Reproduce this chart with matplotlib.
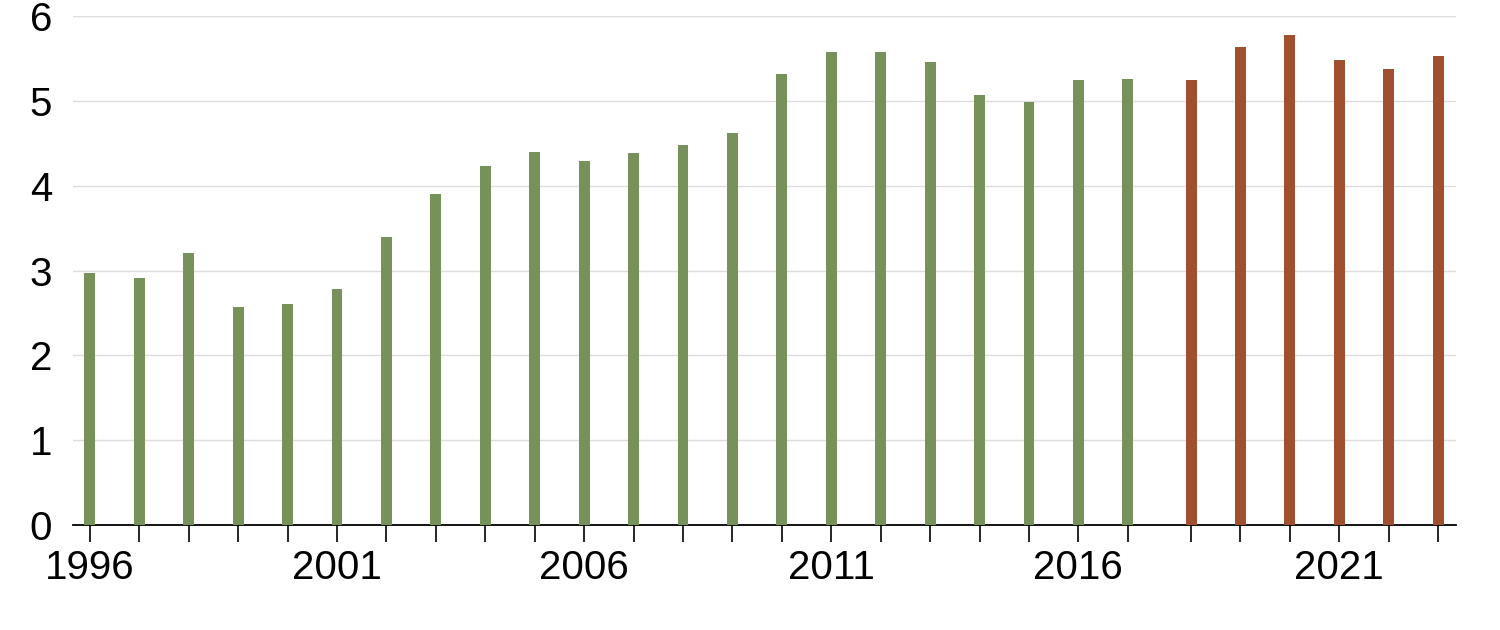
import matplotlib.pyplot as plt
import numpy as np

plt.rcParams['font.family'] = ['Liberation Sans', 'DejaVu Sans']

# values
years_hist = list(range(1996, 2018))
vals_hist = [2.97, 2.91, 3.21, 2.57, 2.61, 2.78, 3.40, 3.90, 4.23, 4.40, 4.29,
             4.38, 4.48, 4.62, 5.32, 5.58, 5.57, 5.46, 5.07, 4.99, 5.24, 5.26]
years_new = list(range(2018, 2024))
vals_new = [5.24, 5.64, 5.78, 5.48, 5.38, 5.53]

green = '#76925a'
rust = '#a0502f'

# second series sits a bit to the right of the regular yearly grid
shift = 0.28
x_hist = np.arange(len(years_hist))
x_new = np.arange(len(years_hist), len(years_hist) + len(years_new)) + shift

fig = plt.figure(figsize=(15, 6.3), dpi=100)
ax = fig.add_axes([73/1500, 1 - 525/630, (1456 - 73)/1500, (525 - 16)/630])

ax.bar(x_hist, vals_hist, width=0.22, color=green, zorder=3)
ax.bar(x_new, vals_new, width=0.22, color=rust, zorder=3)

ax.set_ylim(0, 6)
ax.set_yticks(range(0, 7))
ax.grid(axis='y', color='#dcdcdc', linewidth=1, zorder=0)
ax.set_xlim(-0.34, x_new[-1] + 0.36)

all_x = np.concatenate([x_hist, x_new])
all_years = years_hist + years_new
ax.set_xticks(all_x)
ax.set_xticklabels([str(y) if (y - 1996) % 5 == 0 else '' for y in all_years])

for s in ['top', 'right', 'left']:
    ax.spines[s].set_visible(False)
ax.spines['bottom'].set_linewidth(1.3)
ax.tick_params(axis='x', length=12, width=1.2, pad=5, labelsize=29)
ax.tick_params(axis='y', length=0, pad=15, labelsize=29)

fig.savefig('out.png', dpi=100)
